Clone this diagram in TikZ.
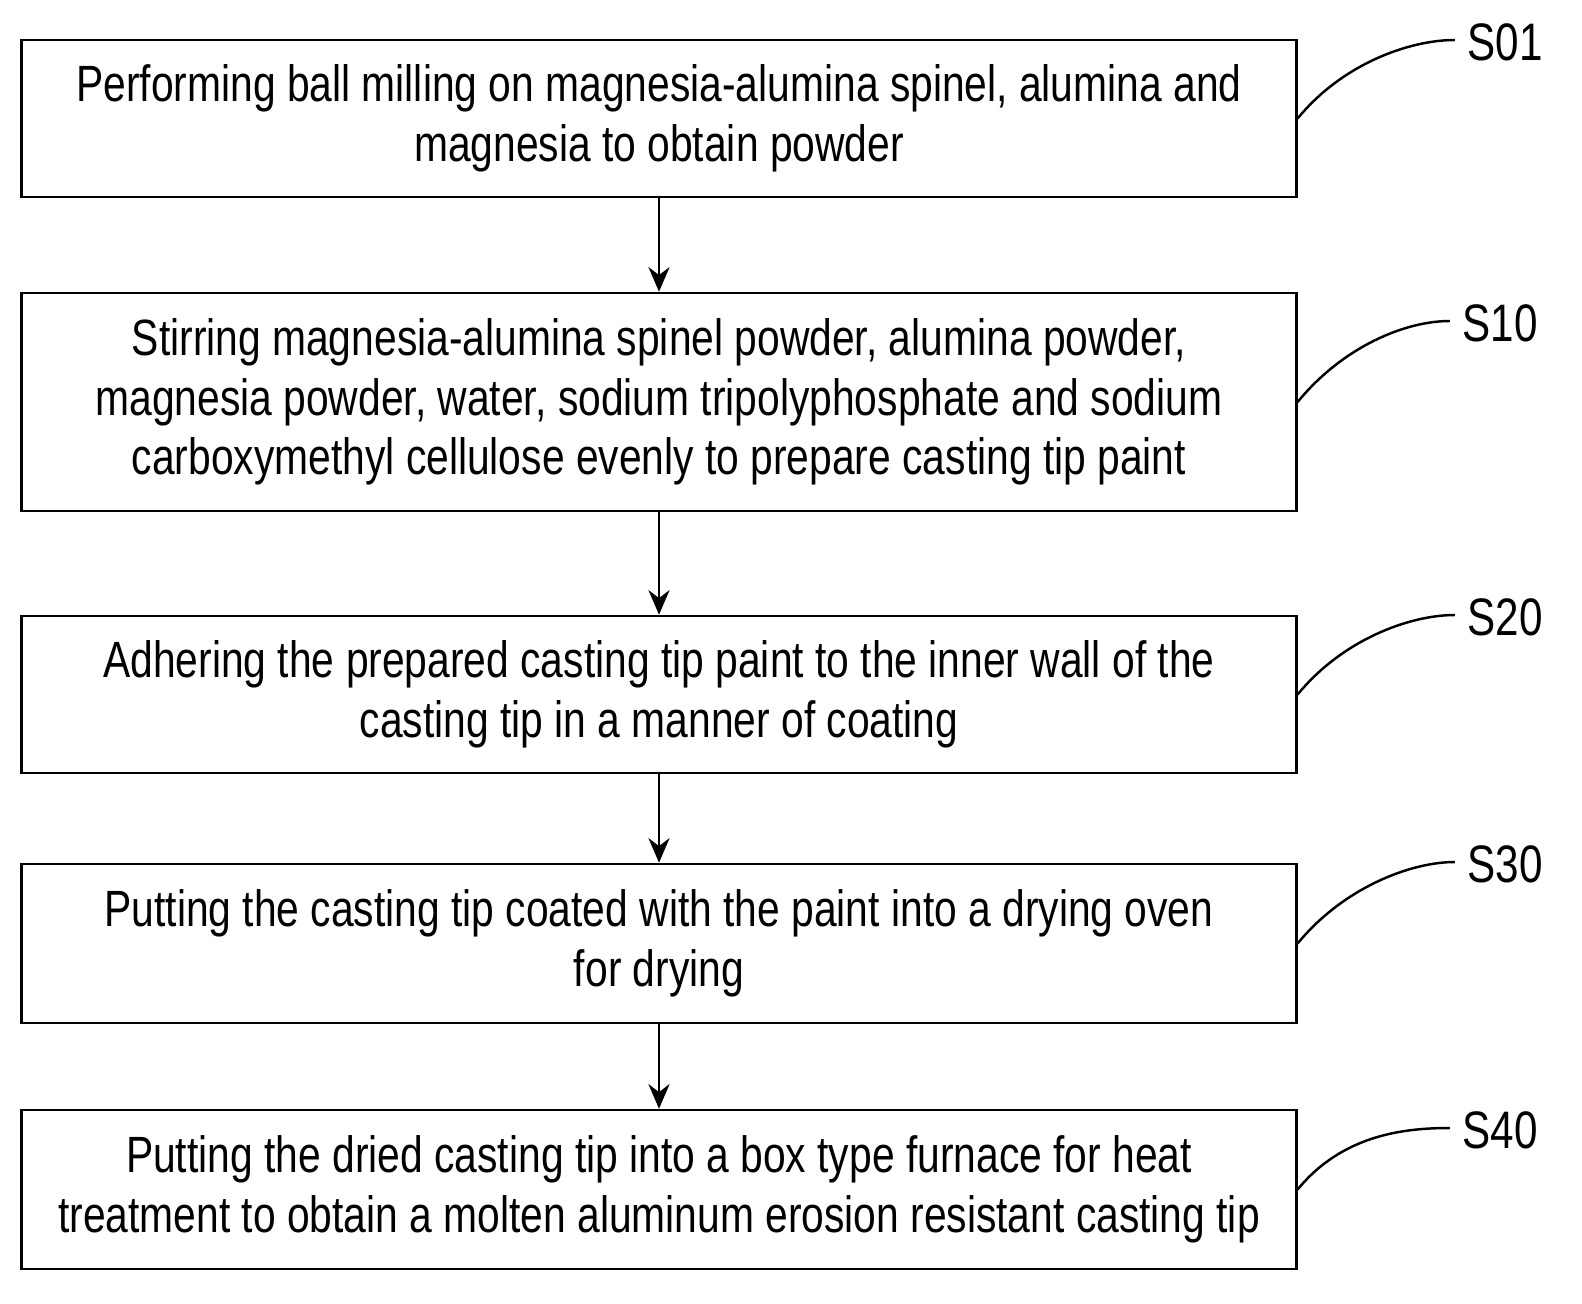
\documentclass[tikz,border=0pt]{standalone}
\usepackage{fontspec}
\setmainfont{Liberation Sans}[FakeStretch=0.8]
\usetikzlibrary{positioning, arrows.meta}

\begin{document}
\begin{tikzpicture}[x=0.01cm, y=-0.01cm, >={Stealth[length=7pt,width=6pt]}]
                \tikzset{stepbox/.style={draw, line width=0.7pt, minimum width=12.74cm, align=center, font=\fontsize{14.5}{17}\selectfont},
                         steplabel/.style={font=\fontsize{15}{17}\selectfont, inner sep=0pt}}
                \useasboundingbox (0,0) rectangle (1582,1303);

                % BOXES
                \node[stepbox, minimum height=1.57cm] (b1) at (659,118.5) {Performing ball milling on magnesia-alumina spinel, alumina and\\ magnesia to obtain powder};
                \node[stepbox, minimum height=2.18cm] (b2) at (659,402) {Stirring magnesia-alumina spinel powder, alumina powder,\\ magnesia powder, water, sodium tripolyphosphate and sodium\\ carboxymethyl cellulose evenly to prepare casting tip paint};
                \node[stepbox, minimum height=1.57cm] (b3) at (659,694.5) {Adhering the prepared casting tip paint to the inner wall of the\\ casting tip in a manner of coating};
                \node[stepbox, minimum height=1.59cm] (b4) at (659,943.5) {Putting the casting tip coated with the paint into a drying oven\\ for drying};
                \node[stepbox, minimum height=1.59cm] (b5) at (659,1189.5) {Putting the dried casting tip into a box type furnace for heat\\ treatment to obtain a molten aluminum erosion resistant casting tip};

                % LABELS
                \node[steplabel] (l1) at (1505,42) {S01};
                \node[steplabel] (l2) at (1500,323) {S10};
                \node[steplabel] (l3) at (1505,617) {S20};
                \node[steplabel] (l4) at (1505,864) {S30};
                \node[steplabel] (l5) at (1500,1130) {S40};

                % ARROWS
                \draw[->, line width=0.7pt] (b1) -- (b2);
                \draw[->, line width=0.7pt] (b2) -- (b3);
                \draw[->, line width=0.7pt] (b3) -- (b4);
                \draw[->, line width=0.7pt] (b4) -- (b5);

                % LEADERS
                \foreach \b/\l in {b1/l1, b2/l2, b3/l3, b4/l4, b5/l5}
                    \draw[line width=0.7pt] (\b.east) .. controls +(45,-55) and +(-45,0) .. ([xshift=-0.12cm, yshift=0.02cm]\l.west);
\end{tikzpicture}
\end{document}
